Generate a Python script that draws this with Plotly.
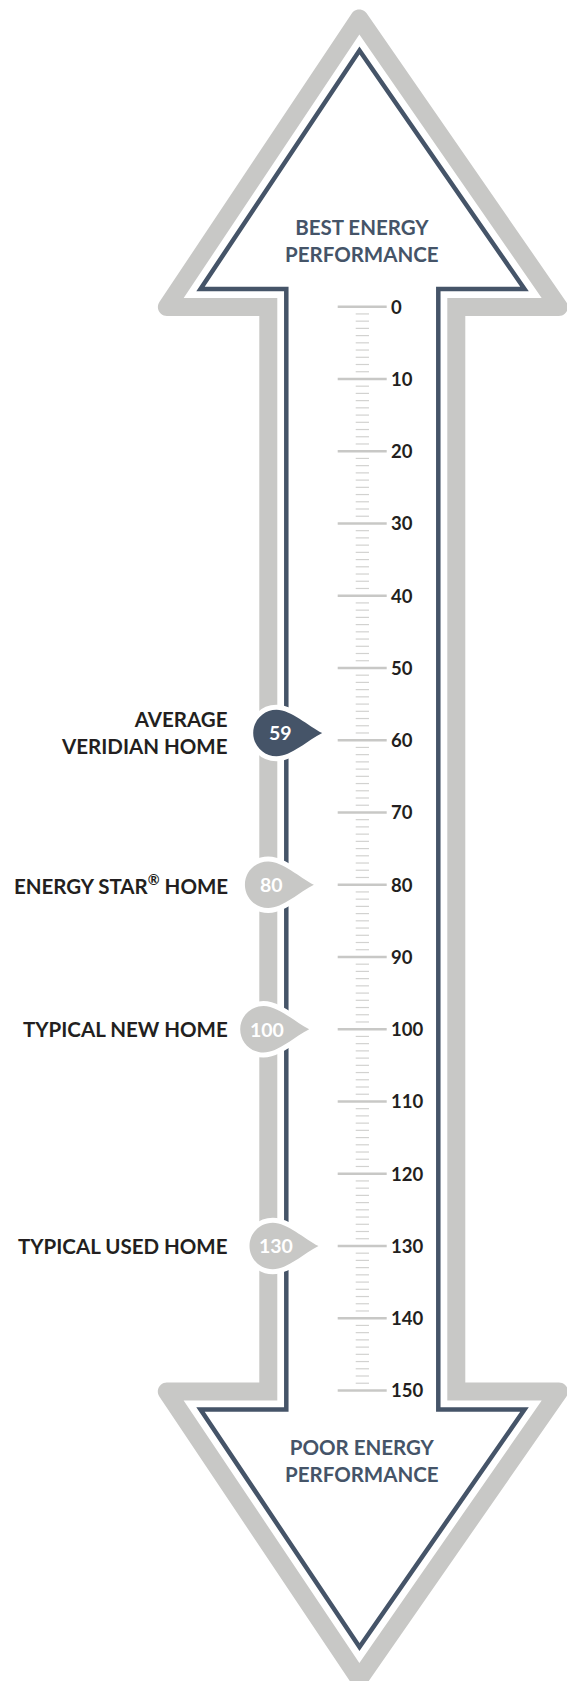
import math
import plotly.graph_objects as go

# ---------------- data ----------------
SCALE_MAJOR = [0, 10, 20, 30, 40, 50, 60, 70, 80, 90, 100, 110, 120, 130, 140, 150]
SCALE_MAJOR_LABELS = ["0", "10", "20", "30", "40", "50", "60", "70", "80", "90",
                      "100", "110", "120", "130", "140", "150"]
HOME_TYPES = ["AVERAGE<br>VERIDIAN HOME", "ENERGY STAR<sup>®</sup> HOME",
              "TYPICAL NEW HOME", "TYPICAL USED HOME"]
HOME_SCORES = [59, 80, 100, 130]
HOME_SCORE_TEXT = ["59", "80", "100", "130"]
TOP_LABEL = "BEST ENERGY<br>PERFORMANCE"
BOTTOM_LABEL = "POOR ENERGY<br>PERFORMANCE"

# ---------------- layout / style ----------------
W, H = 567, 1681
Y0_PX = 306.7          # pixel row of score 0
PX_PER_UNIT = 7.225    # pixels per score unit
GRAY = "#c8c8c6"
DARK = "#455468"
TEXT = "#231f20"
FONT = "Lato"

MARKER_CX = [276.5, 268.2, 263.5, 272.8]   # horizontal placement of each pin (px)
MARKER_COLORS = [DARK, GRAY, GRAY, GRAY]


def v(py):
    """pixel row -> score units on the y axis"""
    return (py - Y0_PX) / PX_PER_UNIT


def pt(x, py):
    return f"{x:.2f},{v(py):.4f}"


def path_from(points, close=True):
    s = "M " + " L ".join(pt(x, y) for x, y in points)
    return s + (" Z" if close else "")


# arrow frame centre-line (pixels)
AX = 359.5
FRAME = [
    (AX, 50.5), (524.5, 289.0), (438.3, 289.0), (438.3, 1409.5),
    (524.5, 1409.5), (AX, 1647.0), (200.5, 1409.5), (286.3, 1409.5),
    (286.3, 289.0), (200.5, 289.0),
]


def _norm(a):
    l = math.hypot(a[0], a[1])
    return (a[0] / l, a[1] / l)


def frame_geometry(pts):
    n = len(pts)
    area = sum(pts[i][0] * pts[(i + 1) % n][1] - pts[(i + 1) % n][0] * pts[i][1] for i in range(n))
    sgn = 1 if area > 0 else -1
    edges, normals = [], []
    for i in range(n):
        e = _norm((pts[(i + 1) % n][0] - pts[i][0], pts[(i + 1) % n][1] - pts[i][1]))
        edges.append(e)
        normals.append((sgn * e[1], -sgn * e[0]))
    return n, sgn, edges, normals


def offset_vertex(pts, edges, normals, i, d):
    n = len(pts)
    j = (i - 1) % n
    p = (pts[j][0] + d * normals[j][0], pts[j][1] + d * normals[j][1])
    q = (pts[i][0] + d * normals[i][0], pts[i][1] + d * normals[i][1])
    e, f = edges[j], edges[i]
    cr = e[0] * f[1] - e[1] * f[0]
    t = ((q[0] - p[0]) * f[1] - (q[1] - p[1]) * f[0]) / cr
    return (p[0] + t * e[0], p[1] + t * e[1])


def offset_poly(pts, d, round_r=None, mid=None):
    n, sgn, edges, normals = frame_geometry(pts)
    out = []
    for i in range(n):
        j = (i - 1) % n
        cr = edges[j][0] * edges[i][1] - edges[j][1] * edges[i][0]
        convex = (cr * sgn) > 0
        if round_r is not None and convex:
            c = offset_vertex(pts, edges, normals, i, mid)
            a0 = math.atan2(normals[j][1], normals[j][0])
            a1 = math.atan2(normals[i][1], normals[i][0])
            da = (a1 - a0 + math.pi) % (2 * math.pi) - math.pi
            for k in range(13):
                a = a0 + da * k / 12
                out.append((c[0] + round_r * math.cos(a), c[1] + round_r * math.sin(a)))
        else:
            out.append(offset_vertex(pts, edges, normals, i, d))
    return out


GRAY_OFFSET = 18.0
GRAY_HALF = 9.0
outer = offset_poly(FRAME, GRAY_OFFSET + GRAY_HALF, round_r=GRAY_HALF, mid=GRAY_OFFSET)
inner = offset_poly(FRAME, GRAY_OFFSET - GRAY_HALF)

shapes = [
    dict(type="path", path=path_from(outer), fillcolor=GRAY, line=dict(width=0), layer="below"),
    dict(type="path", path=path_from(inner), fillcolor="white", line=dict(width=0), layer="below"),
    dict(type="path", path=path_from(FRAME), fillcolor="rgba(0,0,0,0)",
         line=dict(color=DARK, width=4.5), layer="below"),
]

# teardrop pins
R = 23.3
TIP = 45.7
K = 0.5523


def teardrop(cx, val):
    cy = Y0_PX + val * PX_PER_UNIT
    rel = [
        ("M", [(0, -R)]),
        ("C", [(-K * R, -R), (-R, -K * R), (-R, 0)]),
        ("C", [(-R, K * R), (-K * R, R), (0, R)]),
        ("C", [(0.62 * R, R), (TIP - 14, 7), (TIP, 0)]),
        ("C", [(TIP - 14, -7), (0.62 * R, -R), (0, -R)]),
    ]
    s = ""
    for cmd, ps in rel:
        s += cmd + " " + " ".join(pt(cx + dx, cy + dy) for dx, dy in ps) + " "
    return s + "Z"


annotations = []
for cx, val, col, txt, lab in zip(MARKER_CX, HOME_SCORES, MARKER_COLORS, HOME_SCORE_TEXT, HOME_TYPES):
    shapes.append(dict(type="path", path=teardrop(cx, val), fillcolor="white",
                       line=dict(color="white", width=10), layer="above"))
    shapes.append(dict(type="path", path=teardrop(cx, val), fillcolor=col,
                       line=dict(width=0), layer="above"))
    annotations.append(dict(x=cx + 3.5, y=val, text=txt, showarrow=False, xanchor="center",
                            yanchor="middle", font=dict(family=FONT, size=19.5, color="white", weight=700)))
    annotations.append(dict(x=230, y=val, text=lab, showarrow=False, xanchor="right",
                            yanchor="middle", align="right",
                            font=dict(family=FONT, size=20.5, color=TEXT, weight=700)))

for val, lab in zip(SCALE_MAJOR, SCALE_MAJOR_LABELS):
    annotations.append(dict(x=389, y=val, text=lab, showarrow=False, xanchor="left",
                            yanchor="middle", font=dict(family=FONT, size=18.5, color=TEXT, weight=700)))

annotations.append(dict(x=362, y=v(240.5), text=TOP_LABEL, showarrow=False, xanchor="center",
                        yanchor="middle", align="center",
                        font=dict(family=FONT, size=20.5, color=DARK, weight=700)))
annotations.append(dict(x=362, y=v(1460), text=BOTTOM_LABEL, showarrow=False, xanchor="center",
                        yanchor="middle", align="center",
                        font=dict(family=FONT, size=20.5, color=DARK, weight=700)))

# scale ticks
minor_vals = [t for t in range(SCALE_MAJOR[0], SCALE_MAJOR[-1] + 1) if t not in SCALE_MAJOR]
mx, my = [], []
for t in SCALE_MAJOR:
    mx += [337.7, 386.7, None]
    my += [t, t, None]
nx, ny = [], []
for t in minor_vals:
    nx += [355.7, 369.0, None]
    ny += [t, t, None]

fig = go.Figure()
fig.add_trace(go.Scatter(x=nx, y=ny, mode="lines", line=dict(color="#d2d2d0", width=1.2),
                         hoverinfo="skip", showlegend=False))
fig.add_trace(go.Scatter(x=mx, y=my, mode="lines", line=dict(color="#c8c8c6", width=2.6),
                         hoverinfo="skip", showlegend=False))

fig.update_layout(
    width=W, height=H, margin=dict(l=0, r=0, t=0, b=0),
    paper_bgcolor="white", plot_bgcolor="white",
    xaxis=dict(range=[0, W], visible=False, fixedrange=True),
    yaxis=dict(range=[v(H), v(0)], visible=False, fixedrange=True),
    shapes=shapes, annotations=annotations, showlegend=False,
)

fig.write_html("out.html", config={"displayModeBar": False},
               post_script="document.body.style.margin='0px';document.body.style.overflow='hidden';")
